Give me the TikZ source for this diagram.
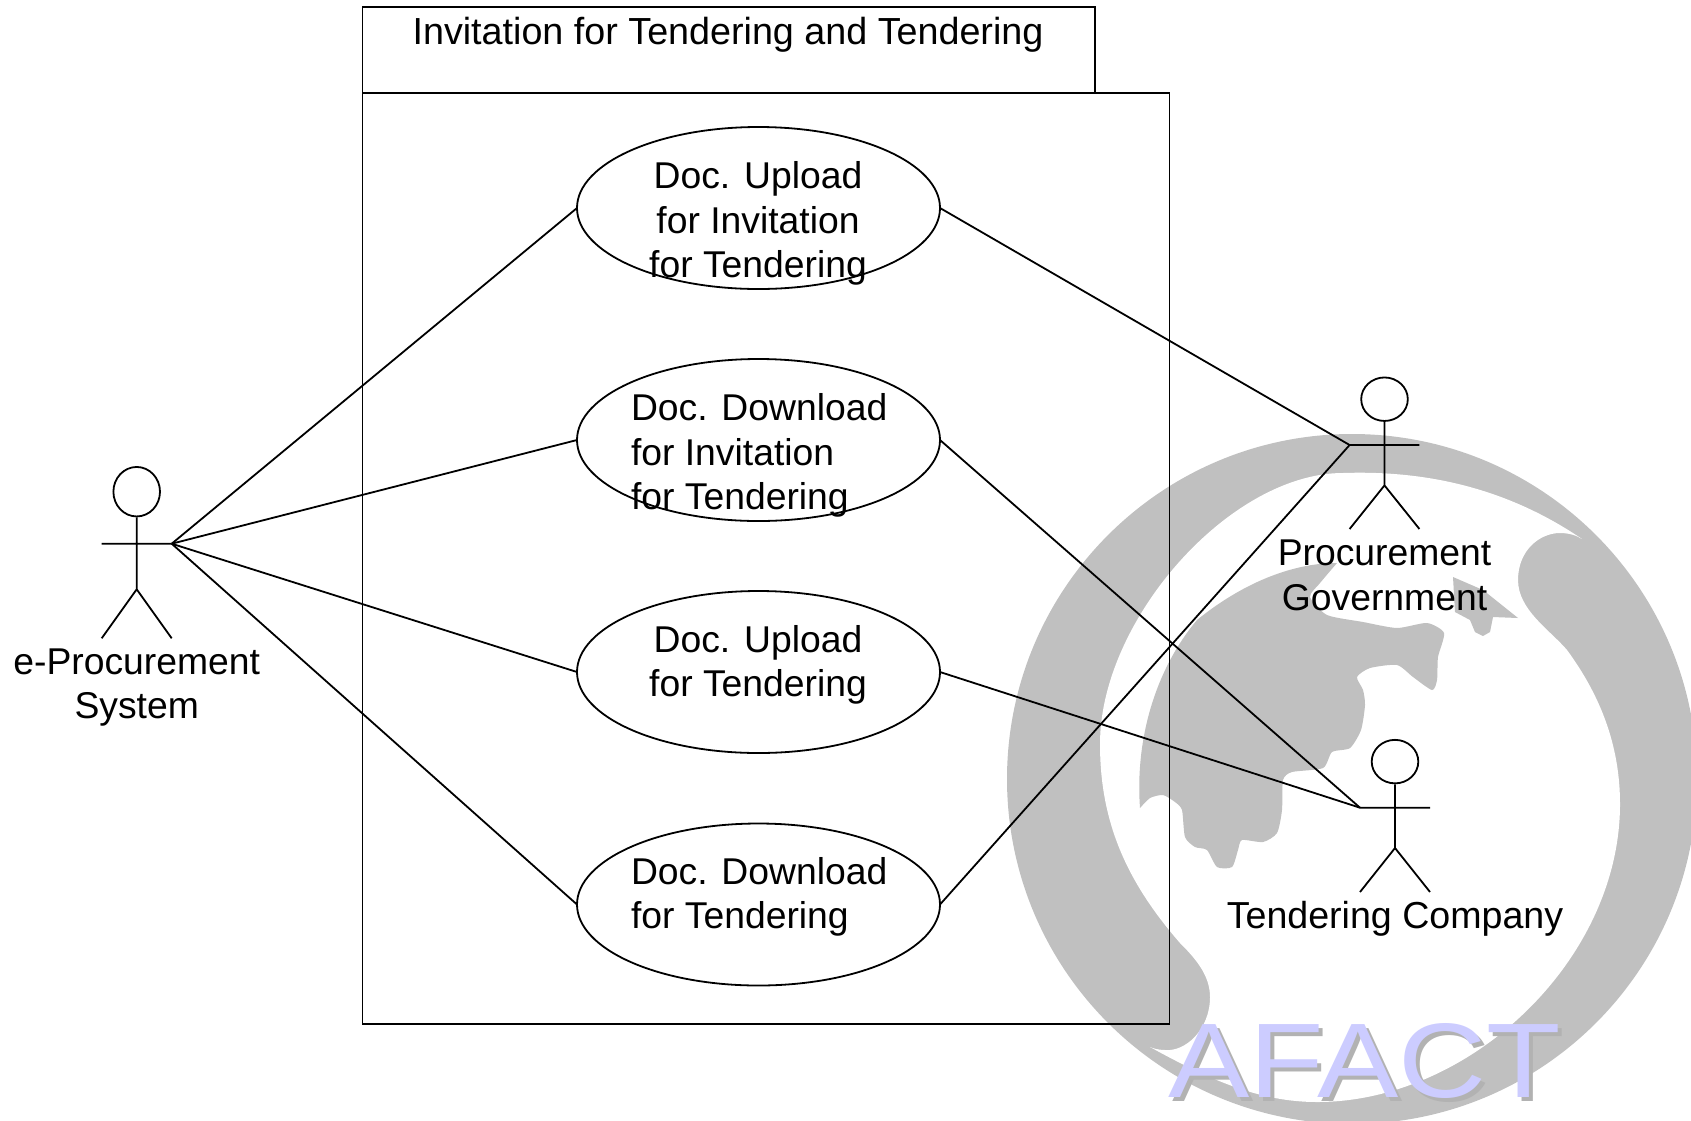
\documentclass[tikz,border=0pt]{standalone}
\usepackage{fontspec}
\usepackage{graphicx}
\setmainfont{Liberation Sans}
\usetikzlibrary{shapes.geometric}
\definecolor{wmgray}{HTML}{C0C0C0}
\definecolor{wmblue}{HTML}{CCCCFF}
\definecolor{wmshadow}{HTML}{B2B2B2}
\tikzset{
  ln/.style={draw=black,line width=1.8pt},
  usecase/.style={ellipse,ln,minimum width=363pt,minimum height=162pt,inner sep=0pt,outer sep=0pt},
  head/.style={ellipse,ln,minimum width=46.6pt,inner sep=0pt},
  lab/.style={inner sep=0pt,outer sep=0pt,anchor=base,align=center,font=\fontsize{37.3}{44.4}\selectfont},
  labl/.style={lab,align=left,anchor=base west},
  wm/.style={inner sep=0pt,outer sep=0pt,anchor=base,font=\fontsize{106}{110}\selectfont}
}
\newcommand{\afactword}{\scalebox{1.15}[1]{AFACT}}
\begin{document}
\begin{tikzpicture}[x=1pt,y=-1pt]
\useasboundingbox (0,0) rectangle (1691,1120);
% watermark
\begin{scope}
\clip (0,0) rectangle (1691,1120);
\fill[wmgray] (1352,779) circle[radius=345pt];
\fill[white] (1150,1047)
  .. controls (1210,1080) and (1260,1102) .. (1317,1102)
  .. controls (1470,1102) and (1620,960) .. (1620,804)
  .. controls (1620,745) and (1600,695) .. (1567,650)
  .. controls (1550,630) and (1518,610) .. (1518,580)
  .. controls (1518,550) and (1540,533) .. (1560,533)
  .. controls (1568,533) and (1576,535) .. (1582,539)
  .. controls (1510,490) and (1430,470) .. (1343,473)
  .. controls (1230,473) and (1100,620) .. (1100,744)
  .. controls (1100,820) and (1125,880) .. (1180,943)
  .. controls (1195,958) and (1210,975) .. (1210,997)
  .. controls (1210,1030) and (1185,1052) .. (1165,1050)
  .. controls (1158,1050) and (1152,1048) .. (1150,1047)
  -- cycle;
\fill[wmgray] (1337,563)
  -- plot[smooth,tension=0.4] coordinates {(1337,563) (1320,583) (1310,597) (1327,615) (1363,622) (1397,628) (1427,623) (1444,633) (1438,657) (1437,680) (1432,690) (1413,677) (1397,665) (1370,668) (1357,677) (1363,690) (1365,705) (1361,730) (1350,748) (1332,752) (1323,768) (1292,772) (1283,780) (1282,810) (1277,833) (1263,842) (1242,840) (1238,850) (1232,867) (1217,867) (1207,850) (1195,847) (1185,837) (1182,810) (1175,802) (1163,795) (1150,798) (1140,808)}
  .. controls (1135,740) and (1155,670) .. (1197,620)
  .. controls (1240,585) and (1290,563) .. (1337,563)
  -- cycle;
\fill[wmgray] (1453,577) -- (1483,590) -- (1518,618) -- (1493,617) -- (1490,632) -- (1483,636) -- (1475,632) -- (1470,620) -- (1455,612) -- cycle;
\end{scope}
\node[wm,text=wmshadow] (afactshadow) at (1369,1101) {\afactword};
\node[wm,text=wmblue] (afact) at (1365,1097) {\afactword};
% package frame
\draw[ln] (362.5,93) -- (362.5,7) -- (1094.6,7) -- (1094.6,93);
\node[ln,draw,minimum width=807pt,minimum height=931pt,inner sep=0pt,outer sep=0pt,anchor=north west] (frame) at (362.5,93) {};
\node[lab,font=\fontsize{37.7}{44.4}\selectfont] (title) at (728,44.5) {Invitation for Tendering and Tendering};
% use cases
\node[usecase] (uc1) at (758.5,208) {};
\node[usecase] (uc2) at (758.5,440) {};
\node[usecase] (uc3) at (758.5,672) {};
\node[usecase] (uc4) at (758.5,904.5) {};
\node[lab] (uc1t) at (758,277.5) {Doc. Upload\\for Invitation\\for Tendering};
\node[labl] (uc2t) at (631,509.5) {Doc. Download\\for Invitation\\for Tendering};
\node[lab] (uc3t) at (758,696.5) {Doc. Upload\\for Tendering};
\node[labl] (uc4t) at (631,928.5) {Doc. Download\\for Tendering};
% actor e-Procurement System
\node[head,minimum height=49.5pt] (eh) at (136.7,491.7) {};
\coordinate (eal) at (101.7,543.7); \coordinate (ear) at (171.7,543.7);
\coordinate (ehip) at (136.7,589.3); \coordinate (ell) at (101.7,638.3); \coordinate (elr) at (171.7,638.3);
\draw[ln] (eh.south) -- (ehip) (eal) -- (ear) (ell) -- (ehip) -- (elr);
\node[lab] (et) at (136.7,718.7) {e-Procurement\\System};
% actor Procurement Government
\node[head,minimum height=43.5pt] (ph) at (1384.5,399.2) {};
\coordinate (pal) at (1349.6,445); \coordinate (par) at (1419.4,445);
\coordinate (phip) at (1384.5,485.4); \coordinate (pll) at (1349.6,529); \coordinate (plr) at (1419.4,529);
\draw[ln] (ph.south) -- (phip) (pal) -- (par) (pll) -- (phip) -- (plr);
\node[lab] (pt) at (1384.5,610) {Procurement\\Government};
% actor Tendering Company
\node[head,minimum height=43.5pt] (th) at (1395,761.6) {};
\coordinate (tal) at (1360,807.7); \coordinate (tar) at (1430,807.7);
\coordinate (thip) at (1395,848); \coordinate (tll) at (1360,892); \coordinate (tlr) at (1430,892);
\draw[ln] (th.south) -- (thip) (tal) -- (tar) (tll) -- (thip) -- (tlr);
\node[lab,font=\fontsize{37.6}{44.4}\selectfont] (tt) at (1395,928) {Tendering Company};
% associations
\draw[ln] (ear) -- (uc1.west);
\draw[ln] (ear) -- (uc2.west);
\draw[ln] (ear) -- (uc3.west);
\draw[ln] (ear) -- (uc4.west);
\draw[ln] (pal) -- (uc1.east);
\draw[ln] (pal) -- (uc4.east);
\draw[ln] (tal) -- (uc2.east);
\draw[ln] (tal) -- (uc3.east);
\end{tikzpicture}
\end{document}
